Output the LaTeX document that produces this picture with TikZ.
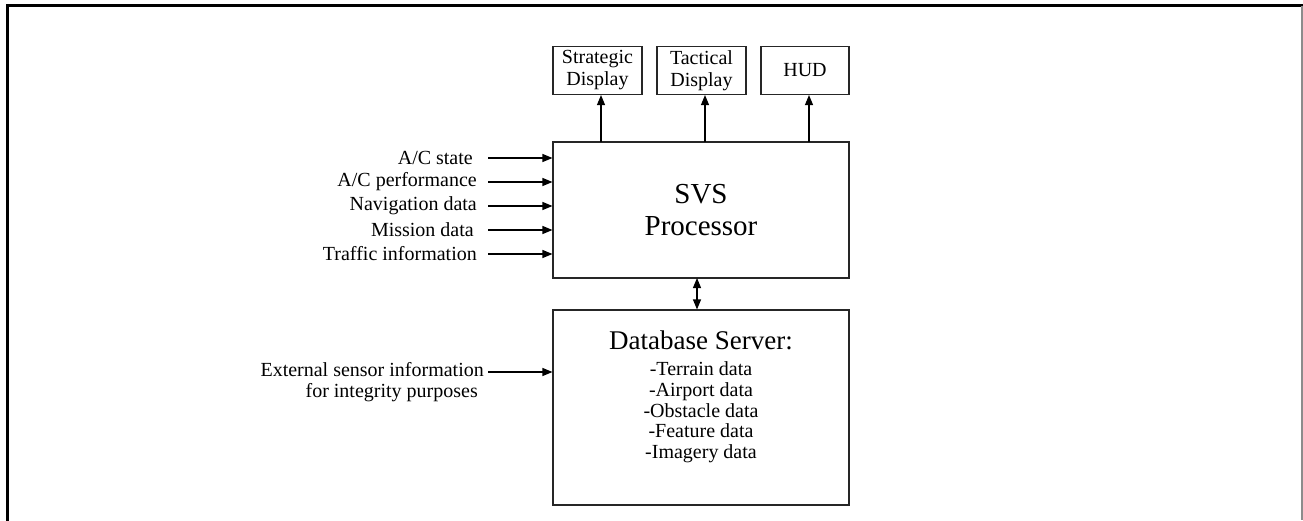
\documentclass[tikz,border=0pt]{standalone}
\usepackage{fontspec}
\setmainfont{Liberation Serif}
\usetikzlibrary{arrows.meta}
\begin{document}
\begin{tikzpicture}[x=1pt,y=-1pt,
  box/.style={draw=black!85,line width=1.1pt,inner sep=0pt,align=center,font=\fontsize{20}{22}\selectfont},
  lbl/.style={anchor=east,inner sep=0pt,font=\fontsize{20}{21}\selectfont,align=right},
  arr/.style={draw=black,line width=1.1pt,-{Triangle[length=10pt,width=8pt]}},
  darr/.style={draw=black,line width=1.1pt,{Triangle[length=10pt,width=8pt]}-{Triangle[length=10pt,width=8pt]}}]
\useasboundingbox (0,0) rectangle (1303,520);
% frame
\draw[line width=2.5pt,line cap=rect] (7.5,520) -- (7.5,5.5) -- (1301.5,5.5);
\draw[black!45,line width=1.2pt] (1302,5.5) -- (1302,520);
% displays
\node[box,minimum width=89pt,minimum height=48pt] (strat) at (597.5,70.5) {Strategic\\Display};
\node[box,minimum width=89pt,minimum height=48pt] (tact) at (701.5,70.5) {Tactical\\Display};
\node[box,minimum width=88pt,minimum height=48pt] (hud) at (805,70.5) {HUD};
% processor
\node[box,minimum width=296pt,minimum height=136pt,font=\fontsize{29}{32}\selectfont] (svs) at (701,210) {SVS\\Processor};
% database
\node[box,minimum width=296pt,minimum height=195pt] (db) at (701,407.5) {};
\node[inner sep=0pt,align=center,font=\fontsize{20}{20.7}\selectfont,anchor=north] (dbtext) at (701,331)
  {{\fontsize{27}{27}\selectfont Database Server:}\\[5pt]-Terrain data\\-Airport data\\-Obstacle data\\-Feature data\\-Imagery data};
% up arrows
\coordinate (u1) at (601,142);
\coordinate (u2) at (705,142);
\coordinate (u3) at (809,142);
\draw[arr] (u1) -- (u1 |- strat.south);
\draw[arr] (u2) -- (u2 |- tact.south);
\draw[arr] (u3) -- (u3 |- hud.south);
% double arrow
\coordinate (d1) at (697,278);
\draw[darr] (d1) -- (d1 |- db.north);
% inputs
\foreach \i/\y/\t/\x in {1/158/{A/C state}/473, 2/182/{A/C performance}/477, 3/206/{Navigation data}/477, 4/230/{Mission data}/474, 5/254/{Traffic information}/477}{
  \node[lbl] (l\i) at (\x,\y) {\t};
  \coordinate (c\i) at (488,\y);
  \draw[arr] (c\i) -- (c\i -| svs.west);
}
\node[lbl] (ext) at (484,382.5) {External sensor information\\for integrity purposes\hspace*{6pt}};
\coordinate (ce) at (488,372);
\draw[arr] (ce) -- (ce -| db.west);
\end{tikzpicture}
\end{document}
